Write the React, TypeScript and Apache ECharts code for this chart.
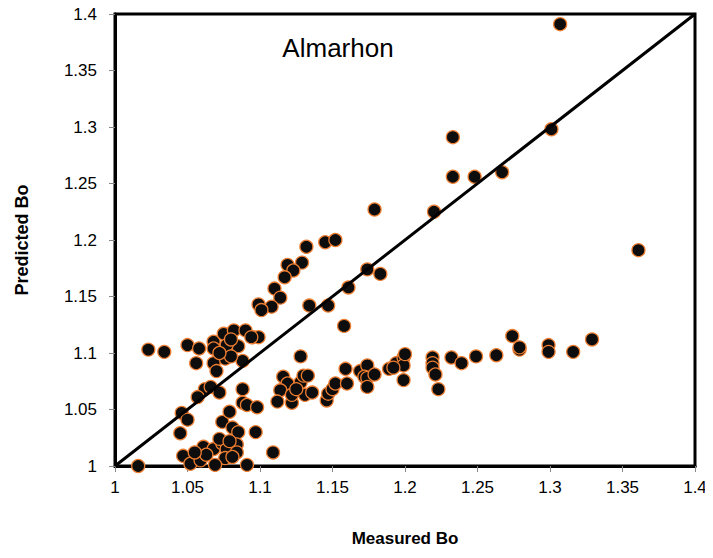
import React, { useEffect, useRef } from "react";
import * as echarts from "echarts";

const measured: number[] = [
  1.307, 1.301, 1.233, 1.233, 1.248, 1.267, 1.179, 1.22, 1.361, 1.132,
  1.145, 1.152, 1.129, 1.174, 1.183, 1.161, 1.134, 1.147, 1.158, 1.119,
  1.123, 1.117, 1.11, 1.114, 1.108, 1.099, 1.101, 1.128, 1.095, 1.099,
  1.023, 1.034, 1.05, 1.058, 1.068, 1.075, 1.082, 1.09, 1.094, 1.085,
  1.077, 1.068, 1.076, 1.068, 1.07, 1.088, 1.08, 1.056, 1.072, 1.08,
  1.062, 1.066, 1.072, 1.057, 1.088, 1.088, 1.046, 1.05, 1.045, 1.074,
  1.079, 1.081, 1.085, 1.091, 1.098, 1.097, 1.109, 1.016,
  1.047, 1.052, 1.061, 1.068, 1.074, 1.077, 1.084, 1.084, 1.076, 1.069,
  1.059, 1.091, 1.063, 1.081, 1.055, 1.072, 1.079,
  1.116, 1.119, 1.114, 1.112, 1.122, 1.122, 1.128, 1.13, 1.133, 1.131,
  1.136, 1.125, 1.146, 1.147, 1.15, 1.152, 1.159, 1.16, 1.169, 1.174,
  1.172, 1.174, 1.179, 1.174, 1.189, 1.194, 1.199, 1.199, 1.199, 1.192,
  1.219, 1.219, 1.219, 1.221, 1.223, 1.232, 1.239, 1.249, 1.263, 1.274,
  1.279, 1.279, 1.299, 1.299, 1.316, 1.329, 1.2,
];

const predicted: number[] = [
  1.391, 1.298, 1.291, 1.256, 1.256, 1.26, 1.227, 1.225, 1.191, 1.194,
  1.198, 1.2, 1.18, 1.174, 1.17, 1.158, 1.142, 1.142, 1.124, 1.178,
  1.173, 1.167, 1.157, 1.149, 1.141, 1.143, 1.138, 1.097, 1.114, 1.114,
  1.103, 1.101, 1.107, 1.104, 1.11, 1.117, 1.12, 1.12, 1.114, 1.106,
  1.107, 1.104, 1.095, 1.091, 1.084, 1.093, 1.097, 1.091, 1.1, 1.112,
  1.068, 1.07, 1.065, 1.061, 1.068, 1.056, 1.047, 1.041, 1.029, 1.039,
  1.048, 1.034, 1.03, 1.054, 1.052, 1.03, 1.012, 1.0,
  1.009, 1.002, 1.017, 1.015, 1.02, 1.015, 1.019, 1.012, 1.007, 1.001,
  1.005, 1.001, 1.01, 1.008, 1.012, 1.024, 1.022,
  1.079, 1.073, 1.067, 1.057, 1.056, 1.063, 1.074, 1.08, 1.08, 1.063,
  1.065, 1.068, 1.058, 1.064, 1.068, 1.073, 1.086, 1.073, 1.084, 1.089,
  1.079, 1.078, 1.081, 1.07, 1.086, 1.091, 1.096, 1.089, 1.076, 1.087,
  1.096, 1.091, 1.087, 1.081, 1.068, 1.096, 1.091, 1.097, 1.098, 1.115,
  1.103, 1.105, 1.107, 1.101, 1.101, 1.112, 1.099,
];

const identityLine: number[][] = [
  [1, 1],
  [1.4, 1.4],
];

const chartTitle = "Almarhon";
const xTitle = "Measured Bo";
const yTitle = "Predicted Bo";

export default function App() {
  const ref = useRef<HTMLDivElement>(null);
  useEffect(() => {
    if (!ref.current) return;
    const chart = echarts.init(ref.current, null, { renderer: "svg" });
    const pts = measured.map((m, i) => [m, predicted[i]]);
    const font = "'Liberation Sans', Arial, sans-serif";
    chart.setOption({
      animation: false,
      backgroundColor: "#ffffff",
      textStyle: { fontFamily: font },
      graphic: [
        {
          type: "text",
          x: 338,
          y: 48,
          style: {
            text: chartTitle,
            fontSize: 26,
            fontFamily: font,
            fill: "#000",
            align: "center",
            verticalAlign: "middle",
          },
        },
      ],
      grid: {
        left: 115,
        right: 18,
        top: 14,
        bottom: 92,
        show: true,
        borderColor: "#000",
        borderWidth: 3,
        backgroundColor: "transparent",
      },
      xAxis: {
        type: "value",
        min: 1,
        max: 1.4,
        interval: 0.05,
        name: xTitle,
        nameLocation: "middle",
        nameGap: 64,
        nameTextStyle: { fontSize: 17, fontWeight: "bold", color: "#000", fontFamily: font },
        axisLine: { show: true, onZero: false, lineStyle: { color: "#000", width: 3 } },
        axisTick: { show: true, inside: false, length: 6, lineStyle: { color: "#888", width: 1 } },
        axisLabel: { fontSize: 17, color: "#000", margin: 13, fontFamily: font, formatter: (v: number) => String(+v.toFixed(2)) },
        splitLine: { show: false },
      },
      yAxis: {
        type: "value",
        min: 1,
        max: 1.4,
        interval: 0.05,
        name: yTitle,
        nameLocation: "middle",
        nameGap: 84,
        nameRotate: 90,
        nameTextStyle: { fontSize: 18, fontWeight: "bold", color: "#000", fontFamily: font },
        axisLine: { show: true, onZero: false, lineStyle: { color: "#000", width: 3 } },
        axisTick: { show: true, inside: false, length: 6, lineStyle: { color: "#888", width: 1 } },
        axisLabel: { fontSize: 17, color: "#000", margin: 18, fontFamily: font, formatter: (v: number) => String(+v.toFixed(2)) },
        splitLine: { show: false },
      },
      series: [
        {
          type: "scatter",
          data: pts,
          symbol: "circle",
          symbolSize: 13,
          itemStyle: { color: "#0d0d0d", borderColor: "#ed7d31", borderWidth: 1.3, opacity: 1 },
          z: 2,
        },
        {
          type: "line",
          data: identityLine,
          symbol: "none",
          lineStyle: { color: "#000", width: 3 },
          z: 3,
        },
      ],
    });
    return () => chart.dispose();
  }, []);
  return <div ref={ref} style={{ width: 713, height: 558, margin: -8 }} />;
}
